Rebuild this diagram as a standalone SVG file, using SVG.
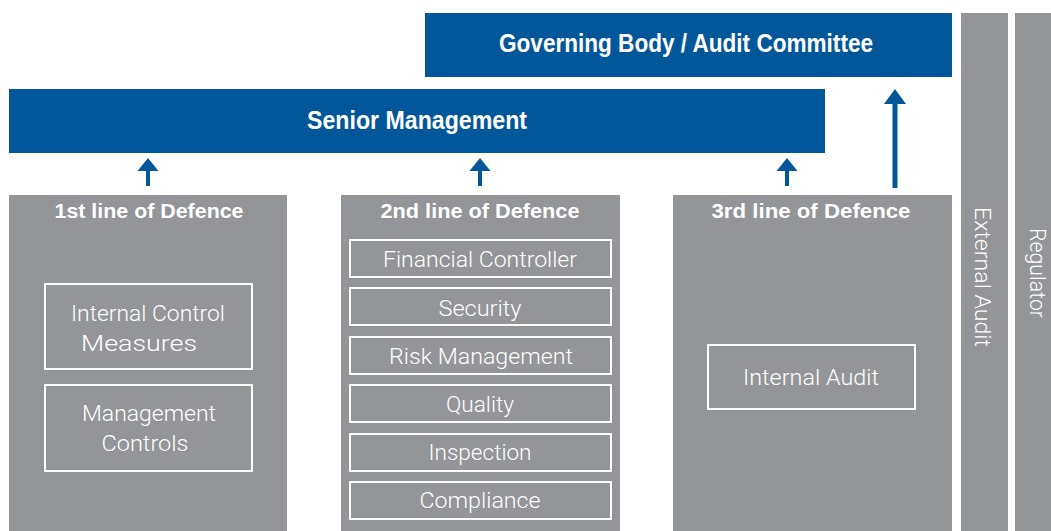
<svg xmlns="http://www.w3.org/2000/svg" width="1051" height="531" viewBox="0 0 1051 531">
  <style>
    .blue { fill: #02569a; }
    .grey { fill: #939598; }
    .item { fill: none; stroke: #ffffff; stroke-width: 2; }
    .head { font-family: "Liberation Sans Narrow", "Liberation Sans", sans-serif; font-weight: bold; fill: #ffffff; text-anchor: middle; }
    .lbl { font-family: Roboto, "Liberation Sans", sans-serif; font-weight: 300; fill: #ffffff; text-anchor: middle; font-size: 22px; }
    .arrow { fill: #02569a; }
  </style>
  <defs>
    <!-- short up arrow, origin at tip -->
    <path id="up-short" d="M0 0 L10.5 13 L2 13 L2 28 L-2 28 L-2 13 L-10.5 13 Z"/>
  </defs>

  <rect width="1051" height="531" fill="#ffffff"/>

  <g id="governing-body">
    <rect class="blue" x="425" y="13" width="527" height="64"/>
    <text class="head" x="686" y="52" font-size="26" textLength="374" lengthAdjust="spacingAndGlyphs">Governing Body / Audit Committee</text>
  </g>

  <g id="senior-management">
    <rect class="blue" x="9" y="89" width="816" height="64"/>
    <text class="head" x="417" y="129" font-size="26" textLength="220" lengthAdjust="spacingAndGlyphs">Senior Management</text>
  </g>

  <g id="external-audit">
    <rect class="grey" x="961" y="13" width="47" height="518"/>
    <text class="lbl" transform="translate(975,277) rotate(90)" x="0" y="0" textLength="140" lengthAdjust="spacingAndGlyphs">External Audit</text>
  </g>

  <g id="regulator">
    <rect class="grey" x="1015" y="13" width="47" height="518"/>
    <text class="lbl" transform="translate(1030,273) rotate(90)" x="0" y="0" textLength="90" lengthAdjust="spacingAndGlyphs">Regulator</text>
  </g>

  <g id="first-line">
    <rect class="grey" x="9" y="195" width="278" height="336"/>
    <text class="head" x="149" y="218" font-size="21" textLength="189" lengthAdjust="spacingAndGlyphs">1st line of Defence</text>
    <rect class="item" x="45" y="284" width="207" height="85"/>
    <text class="lbl" x="148" y="321" textLength="154" lengthAdjust="spacingAndGlyphs">Internal Control</text>
    <text class="lbl" x="139" y="351" textLength="116" lengthAdjust="spacingAndGlyphs">Measures</text>
    <rect class="item" x="45" y="385" width="207" height="86"/>
    <text class="lbl" x="149" y="421" textLength="134" lengthAdjust="spacingAndGlyphs">Management</text>
    <text class="lbl" x="145" y="451" textLength="87" lengthAdjust="spacingAndGlyphs">Controls</text>
  </g>

  <g id="second-line">
    <rect class="grey" x="341" y="195" width="279" height="336"/>
    <text class="head" x="480" y="218" font-size="21" textLength="199" lengthAdjust="spacingAndGlyphs">2nd line of Defence</text>
    <rect class="item" x="350" y="240" width="261" height="37"/>
    <text class="lbl" x="480" y="267" textLength="194" lengthAdjust="spacingAndGlyphs">Financial Controller</text>
    <rect class="item" x="350" y="288" width="261" height="37"/>
    <text class="lbl" x="480" y="316" textLength="83" lengthAdjust="spacingAndGlyphs">Security</text>
    <rect class="item" x="350" y="337" width="261" height="37"/>
    <text class="lbl" x="481" y="364" textLength="184" lengthAdjust="spacingAndGlyphs">Risk Management</text>
    <rect class="item" x="350" y="385" width="261" height="37"/>
    <text class="lbl" x="480" y="412" textLength="68" lengthAdjust="spacingAndGlyphs">Quality</text>
    <rect class="item" x="350" y="434" width="261" height="37"/>
    <text class="lbl" x="480" y="460" textLength="103" lengthAdjust="spacingAndGlyphs">Inspection</text>
    <rect class="item" x="350" y="482" width="261" height="37"/>
    <text class="lbl" x="480" y="508" textLength="121" lengthAdjust="spacingAndGlyphs">Compliance</text>
  </g>

  <g id="third-line">
    <rect class="grey" x="673" y="195" width="279" height="336"/>
    <text class="head" x="811" y="218" font-size="21" textLength="199" lengthAdjust="spacingAndGlyphs">3rd line of Defence</text>
    <rect class="item" x="708" y="345" width="207" height="64"/>
    <text class="lbl" x="811" y="385" textLength="136" lengthAdjust="spacingAndGlyphs">Internal Audit</text>
  </g>

  <g id="connectors">
    <use class="arrow" href="#up-short" x="148" y="158"/>
    <use class="arrow" href="#up-short" x="480" y="158"/>
    <use class="arrow" href="#up-short" x="787" y="158"/>
    <path class="arrow" d="M895 89 L906 104 L897.5 104 L897.5 188 L892.5 188 L892.5 104 L884 104 Z"/>
  </g>
</svg>
